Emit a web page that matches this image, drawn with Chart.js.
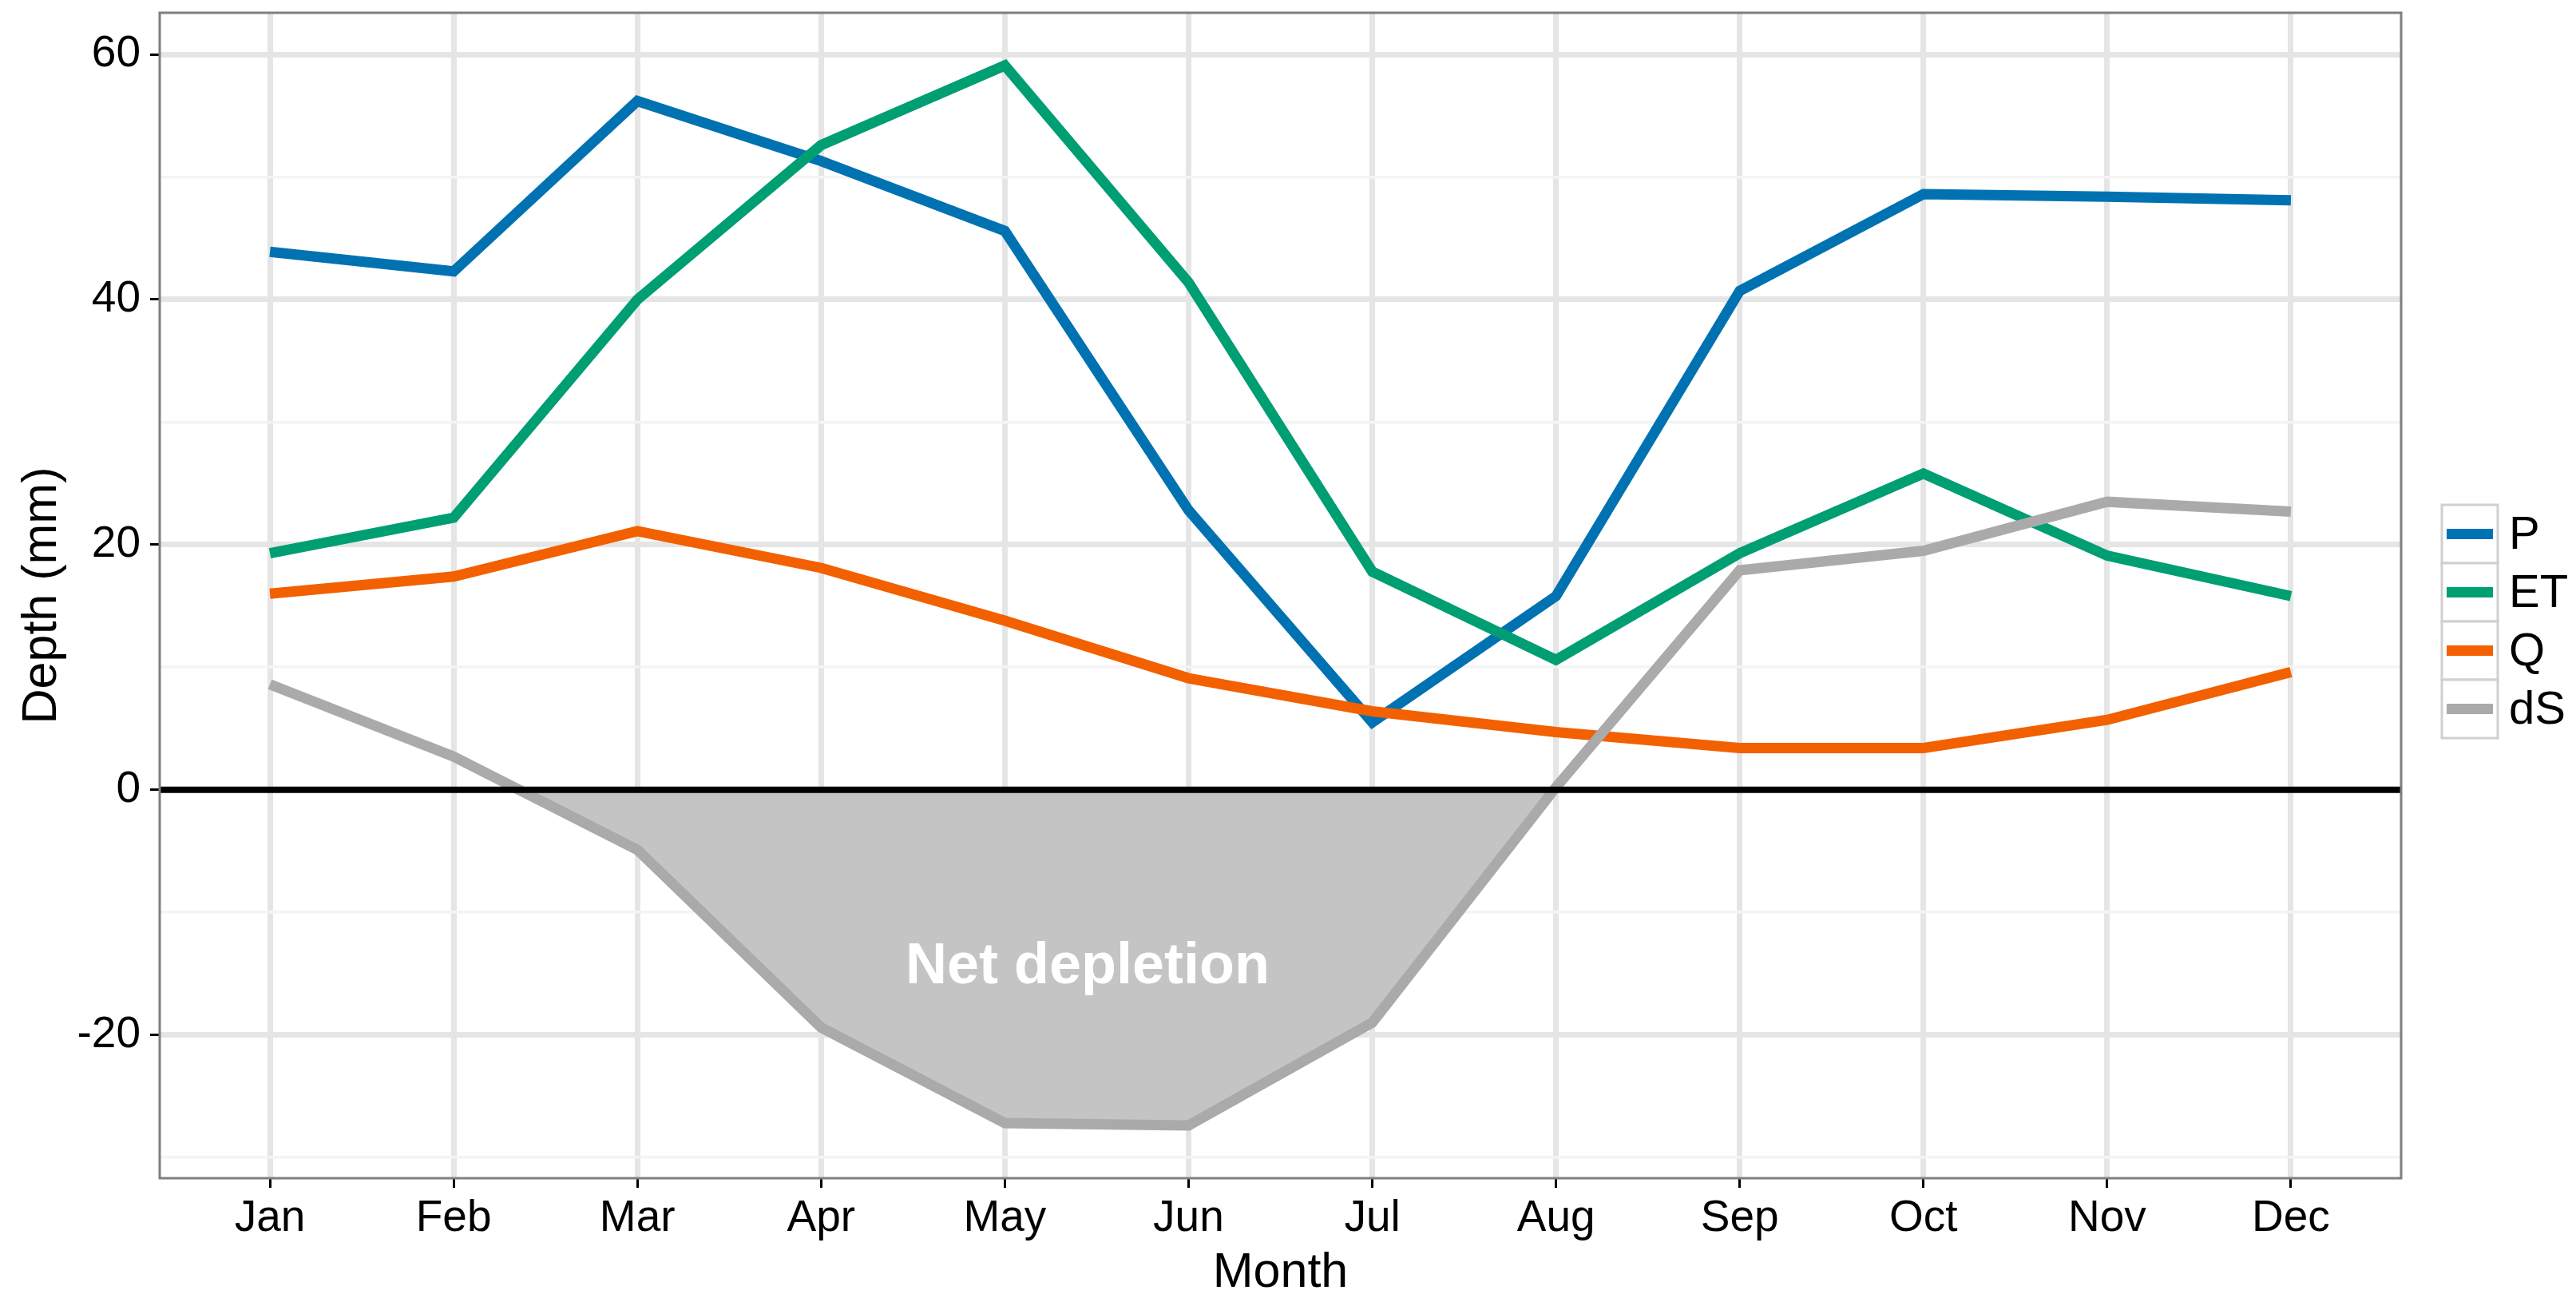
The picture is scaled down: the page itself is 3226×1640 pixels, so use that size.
<!DOCTYPE html>
<html>
<head>
<meta charset="utf-8">
<title>Monthly water balance</title>
<script src="https://cdn.jsdelivr.net/npm/chart.js@4.4.1/dist/chart.umd.min.js"></script>
<style>
  html, body { margin: 0; padding: 0; background: #fff; }
  canvas { display: block; }
</style>
</head>
<body>
<canvas id="balanceChart" width="3226" height="1640"></canvas>
<script>
const months = ['Jan', 'Feb', 'Mar', 'Apr', 'May', 'Jun', 'Jul', 'Aug', 'Sep', 'Oct', 'Nov', 'Dec'];

// depth in mm
const precip  = [43.9, 42.3, 56.2, 51.3, 45.6, 22.8, 5.5, 15.8, 40.7, 48.6, 48.4, 48.1];
const et      = [19.3, 22.2, 40.0, 52.6, 59.1, 41.4, 17.8, 10.6, 19.3, 25.8, 19.1, 15.8];
const runoff  = [16.0, 17.4, 21.1, 18.1, 13.8, 9.1, 6.4, 4.7, 3.4, 3.4, 5.7, 9.6];
const storage = [8.6, 2.7, -4.9, -19.4, -27.2, -27.4, -19.0, 0.2, 17.9, 19.5, 23.5, 22.7];

const yTicks = [-30, -20, -10, 0, 10, 20, 30, 40, 50, 60];
const yLabels = [-20, 0, 20, 40, 60];

const FONT = '"Liberation Sans", Arial, sans-serif';

const toPoints = (values) => values.map((v, i) => ({ x: i, y: v }));

// zero line, panel frame, label and the boxed legend
const panelExtras = {
  id: 'panelExtras',
  afterDatasetsDraw(chart) {
    const { ctx, chartArea: area, scales: { x, y } } = chart;
    ctx.save();

    ctx.fillStyle = '#ffffff';
    ctx.font = 'bold 72px ' + FONT;
    ctx.textAlign = 'center';
    ctx.textBaseline = 'alphabetic';
    ctx.fillText('Net depletion', x.getPixelForValue(4.45), y.getPixelForValue(-14.1) + 26);

    const zero = y.getPixelForValue(0);
    ctx.strokeStyle = '#000000';
    ctx.lineWidth = 8;
    ctx.beginPath();
    ctx.moveTo(area.left, zero);
    ctx.lineTo(area.right, zero);
    ctx.stroke();

    ctx.strokeStyle = '#7f7f7f';
    ctx.lineWidth = 3;
    ctx.strokeRect(area.left, area.top, area.right - area.left, area.bottom - area.top);
    ctx.restore();
  },
  afterDraw(chart) {
    const { ctx, chartArea: area } = chart;
    const left = area.right + 51;
    const top = 632;
    const w = 70, h = 73;
    ctx.save();
    ctx.font = '58px ' + FONT;
    ctx.textAlign = 'left';
    ctx.textBaseline = 'middle';
    chart.data.datasets.forEach((ds, i) => {
      const rowTop = top + i * h;
      ctx.fillStyle = '#ffffff';
      ctx.fillRect(left, rowTop, w, h);
      ctx.strokeStyle = '#d0d0d0';
      ctx.lineWidth = 3;
      ctx.strokeRect(left, rowTop, w, h);
      ctx.strokeStyle = ds.borderColor;
      ctx.lineWidth = 13;
      ctx.lineCap = 'butt';
      ctx.beginPath();
      ctx.moveTo(left + 6, rowTop + h / 2);
      ctx.lineTo(left + w - 6, rowTop + h / 2);
      ctx.stroke();
      ctx.fillStyle = '#000000';
      ctx.fillText(ds.label, left + w + 14, rowTop + h / 2 + 2);
    });
    ctx.restore();
  }
};

const ctx1 = document.getElementById('balanceChart');

new Chart(ctx1, {
  type: 'line',
  data: {
    datasets: [
      { label: 'P',  data: toPoints(precip),  borderColor: '#0072b2', order: 4, fill: false },
      { label: 'ET', data: toPoints(et),      borderColor: '#009e73', order: 3, fill: false },
      { label: 'Q',  data: toPoints(runoff),  borderColor: '#f26000', order: 2, fill: false },
      {
        label: 'dS', data: toPoints(storage), borderColor: '#aaaaaa', order: 1,
        fill: { target: 'origin', above: 'rgba(0,0,0,0)', below: '#c4c4c4' }
      }
    ]
  },
  options: {
    responsive: false,
    animation: false,
    devicePixelRatio: 1,
    layout: { padding: { left: 0, top: 16, right: 219, bottom: 0 } },
    elements: {
      line: { borderWidth: 13, tension: 0, borderCapStyle: 'butt' },
      point: { radius: 0, hoverRadius: 0 }
    },
    plugins: {
      legend: { display: false },
      tooltip: { enabled: false }
    },
    scales: {
      x: {
        type: 'linear',
        min: -0.6,
        max: 11.6,
        afterBuildTicks: (axis) => { axis.ticks = months.map((m, i) => ({ value: i })); },
        afterFit: (axis) => {
          axis.height = 165;
          axis.paddingLeft = 0;
          axis.paddingRight = 0;
        },
        border: { display: false },
        grid: {
          color: '#e5e5e5',
          lineWidth: 7,
          tickColor: '#000000',
          tickWidth: 3,
          tickLength: 12
        },
        ticks: {
          autoSkip: false,
          maxRotation: 0,
          padding: 6,
          color: '#000000',
          font: { family: FONT, size: 55 },
          callback: (value) => months[value]
        },
        title: {
          display: true,
          text: 'Month',
          color: '#000000',
          font: { family: FONT, size: 61 },
          padding: { top: 0, bottom: 9 }
        }
      },
      y: {
        min: -31.7,
        max: 63.4,
        afterBuildTicks: (axis) => { axis.ticks = yTicks.map((v) => ({ value: v })); },
        afterFit: (axis) => {
          axis.width = 200;
          axis.paddingTop = 0;
          axis.paddingBottom = 0;
        },
        border: { display: false },
        grid: {
          color: (c) => yLabels.includes(c.tick.value) ? '#e5e5e5' : '#f4f4f4',
          lineWidth: (c) => yLabels.includes(c.tick.value) ? 7 : 3.5,
          tickColor: (c) => yLabels.includes(c.tick.value) ? '#000000' : 'rgba(0,0,0,0)',
          tickWidth: 3,
          tickLength: 12
        },
        ticks: {
          autoSkip: false,
          padding: 12,
          color: '#000000',
          font: { family: FONT, size: 55 },
          callback: (value) => yLabels.includes(value) ? String(value) : ''
        },
        title: {
          display: true,
          text: 'Depth (mm)',
          color: '#000000',
          font: { family: FONT, size: 61 },
          padding: { top: 17, bottom: 0 }
        }
      }
    }
  },
  plugins: [panelExtras]
});
</script>
</body>
</html>
